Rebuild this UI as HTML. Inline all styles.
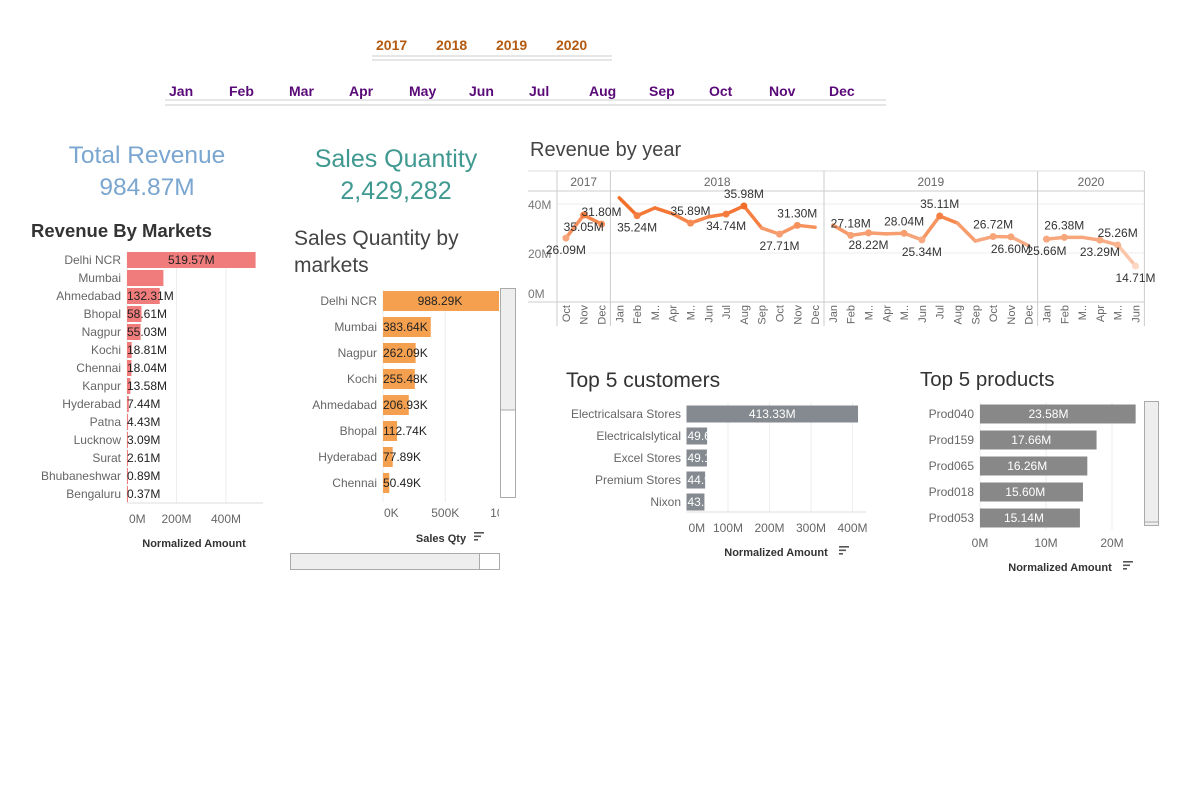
<!DOCTYPE html>
<html><head><meta charset="utf-8">
<style>
html,body{margin:0;padding:0;background:#fff;width:1200px;height:800px;overflow:hidden}
svg{display:block;font-family:"Liberation Sans","DejaVu Sans",sans-serif}
</style></head>
<body>
<svg id="dash" width="1200" height="800" viewBox="0 0 1200 800">
  <g font-size="14" font-weight="bold" fill="#b35a10">
    <text x="376" y="50">2017</text>
    <text x="436" y="50">2018</text>
    <text x="496" y="50">2019</text>
    <text x="556" y="50">2020</text>
    <line x1="372" y1="56" x2="612" y2="56" stroke="#ccc"/><line x1="372" y1="60" x2="612" y2="60" stroke="#ccc"/>
  </g>
  <g font-size="14" font-weight="bold" fill="#5a0a78">
    <text x="169" y="96">Jan</text>
    <text x="229" y="96">Feb</text>
    <text x="289" y="96">Mar</text>
    <text x="349" y="96">Apr</text>
    <text x="409" y="96">May</text>
    <text x="469" y="96">Jun</text>
    <text x="529" y="96">Jul</text>
    <text x="589" y="96">Aug</text>
    <text x="649" y="96">Sep</text>
    <text x="709" y="96">Oct</text>
    <text x="769" y="96">Nov</text>
    <text x="829" y="96">Dec</text>
    <line x1="165" y1="100" x2="886" y2="100" stroke="#ccc"/><line x1="165" y1="105" x2="886" y2="105" stroke="#ccc"/>
  </g>
  <g fill="#7aa6d0" font-size="24.5" text-anchor="middle">
    <text x="147" y="163">Total Revenue</text>
    <text x="147" y="195">984.87M</text>
  </g>
  <g fill="#3f9990" font-size="25" text-anchor="middle">
    <text x="396" y="167">Sales Quantity</text>
    <text x="396" y="199">2,429,282</text>
  </g>
  <text x="31" y="237" font-size="18.5" font-weight="bold" fill="#333">Revenue By Markets</text>
  <text x="294" y="245" font-size="21" fill="#444">Sales Quantity by</text>
  <text x="294" y="272" font-size="21" fill="#444">markets</text>
  <text x="530" y="156" font-size="20" fill="#444">Revenue by year</text>
  <text x="566" y="387" font-size="21" fill="#333">Top 5 customers</text>
  <text x="920" y="386" font-size="20.5" fill="#333">Top 5 products</text>
  <g id="g-mkt"></g>
  <g id="g-qty"></g>
  <g id="g-line"></g>
  <g id="g-cust"></g>
  <g id="g-prod"></g>
</svg>
<script>
const NS="http://www.w3.org/2000/svg";
const marketNames=["Delhi NCR","Mumbai","Ahmedabad","Bhopal","Nagpur","Kochi","Chennai","Kanpur","Hyderabad","Patna","Lucknow","Surat","Bhubaneshwar","Bengaluru"];
const marketRevenue=[519.57,147.0,132.31,58.61,55.03,18.81,18.04,13.58,7.44,4.43,3.09,2.61,0.89,0.37];
const marketTicks=[0,200,400];
const qtyNames=["Delhi NCR","Mumbai","Nagpur","Kochi","Ahmedabad","Bhopal","Hyderabad","Chennai"];
const qtyValues=[988.29,383.64,262.09,255.48,206.93,112.74,77.89,50.49];
const qtyTicks=[0,500,1000];
const monthLabels=["Oct","Nov","Dec","Jan","Feb","M..","Apr","M..","Jun","Jul","Aug","Sep","Oct","Nov","Dec","Jan","Feb","M..","Apr","M..","Jun","Jul","Aug","Sep","Oct","Nov","Dec","Jan","Feb","M..","Apr","M..","Jun"];
const yearNames=["2017","2018","2019","2020"];
const yearMonths=[3,12,12,6];
const revenueMonthly=[26.09,35.5,31.8,42.5,35.24,38.4,36.0,32.2,34.74,35.89,39.2,30.2,27.71,31.3,30.5,31.4,27.18,28.22,27.8,28.04,25.34,35.11,32.2,24.9,26.72,26.6,23.0,25.66,26.38,26.4,25.26,23.29,14.71];
const lineLabelIdx=[0,1,2,4,7,9,10,12,13,16,17,19,20,21,24,25,28,27,30,31,32];
const lineLabelText=["26.09M","35.05M","31.80M","35.24M","35.89M","34.74M","35.98M","27.71M","31.30M","27.18M","28.22M","28.04M","25.34M","35.11M","26.72M","26.60M","26.38M","25.66M","23.29M","25.26M","14.71M"];
const lineLabelSide=["b","b","a","b","a","b","a","b","a","a","b","a","b","a","a","b","a","b","b","a","b"];
const lineTicks=[0,20,40];
const custNames=["Electricalsara Stores","Electricalslytical","Excel Stores","Premium Stores","Nixon"];
const custValues=[413.33,49.62,49.17,44.91,43.25];
const custTicks=[0,100,200,300,400];
const prodNames=["Prod040","Prod159","Prod065","Prod018","Prod053"];
const prodValues=[23.58,17.66,16.26,15.60,15.14];
const prodTicks=[0,10,20];

function mk(tag,attrs,parent,txt){const e=document.createElementNS(NS,tag);for(const k in attrs)e.setAttribute(k,attrs[k]);if(txt!==undefined)e.textContent=txt;parent.appendChild(e);return e;}
function sortIcon(p,x,y){mk("rect",{x:x,y:y,width:10,height:1.6,fill:"#555"},p);mk("rect",{x:x,y:y+3.5,width:7,height:1.6,fill:"#555"},p);mk("rect",{x:x,y:y+7,width:4,height:1.6,fill:"#555"},p);}

(function(){
  const g=document.getElementById("g-mkt");
  const x0=127, sx=v=>x0+v*0.2475, y0=260, step=18;
  marketTicks.forEach(t=>{if(t>0){const gl=mk("line",{x1:sx(t),y1:252,x2:sx(t),y2:503,stroke:"#eee"},g);}
    const tl=mk("text",{x:t===0?x0+2:sx(t),y:523,"font-size":12,fill:"#666","text-anchor":t===0?"start":"middle"},g,t+"M");
    });
  mk("line",{x1:x0,y1:503,x2:263,y2:503,stroke:"#ddd"},g);
  mk("line",{x1:x0,y1:252,x2:x0,y2:503,stroke:"#eee"},g);
  marketNames.forEach((n,i)=>{const cy=y0+i*step;
    const lb=mk("text",{x:121,y:cy+4,"font-size":12,fill:"#666","text-anchor":"end"},g,n);
    
    const b=mk("rect",{x:x0,y:cy-8,width:Math.max(1,sx(marketRevenue[i])-x0),height:16,fill:"#f07c7c"},g);
    
    if(i===1)return;
    const vl=mk("text",{x:i===0?(x0+sx(marketRevenue[i]))/2:x0,y:cy+4,"font-size":12,fill:"#222","text-anchor":i===0?"middle":"start"},g,marketRevenue[i].toFixed(2)+"M");
    });
  const at=mk("text",{x:194,y:547,"font-size":11,"font-weight":"bold",fill:"#333","text-anchor":"middle"},g,"Normalized Amount");
  
})();

(function(){
  const g=document.getElementById("g-qty");
  const x0=383, sx=v=>x0+v*0.1245, y0=301, step=26;
  mk("defs",{},g).innerHTML='<clipPath id="qclip"><rect x="290" y="280" width="209" height="240"/></clipPath>';
  const cg=mk("g",{"clip-path":"url(#qclip)"},g);
  qtyTicks.forEach(t=>{if(t>0)mk("line",{x1:sx(t),y1:290,x2:sx(t),y2:502,stroke:"#eee"},cg);
    const tl=mk("text",{x:t===0?x0+1:sx(t),y:517,"font-size":12,fill:"#666","text-anchor":t===0?"start":"middle"},cg,t+"K");
    });
  mk("line",{x1:x0,y1:290,x2:x0,y2:502,stroke:"#eee"},cg);
  qtyNames.forEach((n,i)=>{const cy=y0+i*step;
    const lb=mk("text",{x:377,y:cy+4,"font-size":12,fill:"#666","text-anchor":"end"},g,n);
    
    const b=mk("rect",{x:x0,y:cy-10,width:sx(qtyValues[i])-x0,height:20,fill:"#f5a04f"},cg);
    
    const vl=mk("text",{x:i===0?440:x0,y:cy+4,"font-size":12,fill:"#222","text-anchor":i===0?"middle":"start"},cg,qtyValues[i].toFixed(2)+"K");
    });
  const vs=mk("rect",{x:500.5,y:288.5,width:15,height:209,fill:"#fff",stroke:"#aaa"},g);
  
  mk("rect",{x:501,y:289,width:14,height:121,fill:"#eee"},g);
  mk("line",{x1:501,y1:410,x2:515,y2:410,stroke:"#aaa"},g);
  const hs=mk("rect",{x:290.5,y:553.5,width:209,height:16,fill:"#eee",stroke:"#aaa"},g);
  
  mk("rect",{x:480,y:554,width:19,height:15,fill:"#fff"},g);mk("line",{x1:479.5,y1:554,x2:479.5,y2:569,stroke:"#aaa"},g);
  const at=mk("text",{x:441,y:542,"font-size":11,"font-weight":"bold",fill:"#333","text-anchor":"middle"},g,"Sales Qty");
  
  sortIcon(g,474,532);
})();

(function(){
  const g=document.getElementById("g-line");
  const left=557, cw=17.8, top=171, hdr=191, bottom=302;
  const sy=v=>bottom-v*2.45, sx=i=>left+(i+0.5)*cw;
  mk("line",{x1:528,y1:top,x2:1144,y2:top,stroke:"#ddd"},g);
  mk("line",{x1:528,y1:hdr,x2:1144,y2:hdr,stroke:"#ccc"},g);
  mk("line",{x1:528,y1:bottom,x2:1144,y2:bottom,stroke:"#ccc"},g);
  lineTicks.forEach(t=>{if(t>0)mk("line",{x1:left,y1:sy(t),x2:1144,y2:sy(t),stroke:"#eee"},g);
    const tl=mk("text",{x:528,y:t===0?298:sy(t)+5,"font-size":12,fill:"#777"},g,t+"M");
    });
  let c=0;
  mk("line",{x1:left,y1:top,x2:left,y2:326,stroke:"#ccc"},g);
  yearNames.forEach((y,k)=>{const x1=left+c*cw, x2=left+(c+yearMonths[k])*cw;
    mk("line",{x1:x2,y1:top,x2:x2,y2:326,stroke:"#ccc"},g);
    const yl=mk("text",{x:(x1+x2)/2,y:186,"font-size":12,fill:"#666","text-anchor":"middle"},g,y);
    
    c+=yearMonths[k];});
  monthLabels.forEach((m,i)=>{const t=mk("text",{x:0,y:0,"font-size":11,fill:"#666","text-anchor":"end",transform:`translate(${sx(i)+4},305) rotate(-90)`},g,m);
    });
  const mn=Math.min(...revenueMonthly), mx=Math.max(...revenueMonthly);
  const col=v=>{const f=(v-mn)/(mx-mn);const a=[251,215,196],b=[242,96,20];return `rgb(${a.map((x,j)=>Math.round(x+(b[j]-x)*f)).join(",")})`;};
  let s=0;
  yearMonths.forEach(n=>{for(let i=s;i<s+n-1;i++){const l=mk("line",{x1:sx(i),y1:sy(revenueMonthly[i]),x2:sx(i+1),y2:sy(revenueMonthly[i+1]),stroke:col((revenueMonthly[i]+revenueMonthly[i+1])/2),"stroke-width":3.5,"stroke-linecap":"round"},g);
    }s+=n;});
  revenueMonthly.forEach((v,i)=>{if(!lineLabelIdx.includes(i))return;const p=mk("circle",{cx:sx(i),cy:sy(v),r:3.5,fill:col(v)},g);
    });
  lineLabelIdx.forEach((i,k)=>{const y=sy(revenueMonthly[i])+(lineLabelSide[k]==="a"?-8:16);
    const t=mk("text",{x:sx(i),y:y,"font-size":12,fill:"#333","text-anchor":"middle"},g,lineLabelText[k]);
    });
})();

(function(){
  const g=document.getElementById("g-cust");
  const x0=686.5, sx=v=>x0+v*0.415, y0=414, step=22;
  custTicks.forEach(t=>{if(t>0)mk("line",{x1:sx(t),y1:402,x2:sx(t),y2:512,stroke:"#eee"},g);
    const tl=mk("text",{x:t===0?x0+2:sx(t),y:532,"font-size":12,fill:"#666","text-anchor":t===0?"start":"middle"},g,t+"M");
    });
  mk("line",{x1:x0,y1:512,x2:866,y2:512,stroke:"#ddd"},g);
  custNames.forEach((n,i)=>{const cy=y0+i*step;
    const lb=mk("text",{x:681,y:cy+4,"font-size":12,fill:"#666","text-anchor":"end"},g,n);
    
    const w=sx(custValues[i])-x0;
    const b=mk("rect",{x:x0,y:cy-8.5,width:w,height:17,fill:"#848a90"},g);
    
    const cpth=mk("clipPath",{id:"cc"+i},g);
    mk("rect",{x:x0,y:cy-9,width:w,height:18},cpth);
    const vl=mk("text",{x:i===0?x0+w/2:x0+1,y:cy+4,"font-size":12,fill:"#fff","text-anchor":i===0?"middle":"start","clip-path":`url(#cc${i})`},g,custValues[i].toFixed(2)+"M");
    });
  const at=mk("text",{x:776,y:556,"font-size":11,"font-weight":"bold",fill:"#333","text-anchor":"middle"},g,"Normalized Amount");
  
  sortIcon(g,839,546);
})();

(function(){
  const g=document.getElementById("g-prod");
  const x0=980, sx=v=>x0+v*6.6, y0=414, step=26;
  prodTicks.forEach(t=>{if(t>0)mk("line",{x1:sx(t),y1:402,x2:sx(t),y2:530,stroke:"#eee"},g);
    const tl=mk("text",{x:sx(t),y:547,"font-size":12,fill:"#666","text-anchor":"middle"},g,t+"M");
    });
  mk("line",{x1:x0,y1:402,x2:x0,y2:530,stroke:"#eee"},g);
  prodNames.forEach((n,i)=>{const cy=y0+i*step;
    const lb=mk("text",{x:974,y:cy+4,"font-size":12,fill:"#666","text-anchor":"end"},g,n);
    
    const b=mk("rect",{x:x0,y:cy-9.5,width:sx(prodValues[i])-x0,height:19,fill:"#888"},g);
    
    const vl=mk("text",{x:x0+(sx(prodValues[i])-x0)*0.44,y:cy+4,"font-size":12,fill:"#fff","text-anchor":"middle"},g,prodValues[i].toFixed(2)+"M");
    });
  const vs=mk("rect",{x:1144.5,y:401.5,width:14,height:124,fill:"#eee",stroke:"#aaa"},g);
  
  mk("line",{x1:1145,y1:522,x2:1158,y2:522,stroke:"#aaa"},g);
  const at=mk("text",{x:1060,y:571,"font-size":11,"font-weight":"bold",fill:"#333","text-anchor":"middle"},g,"Normalized Amount");
  
  sortIcon(g,1123,561);
})();
</script>
</body></html>
